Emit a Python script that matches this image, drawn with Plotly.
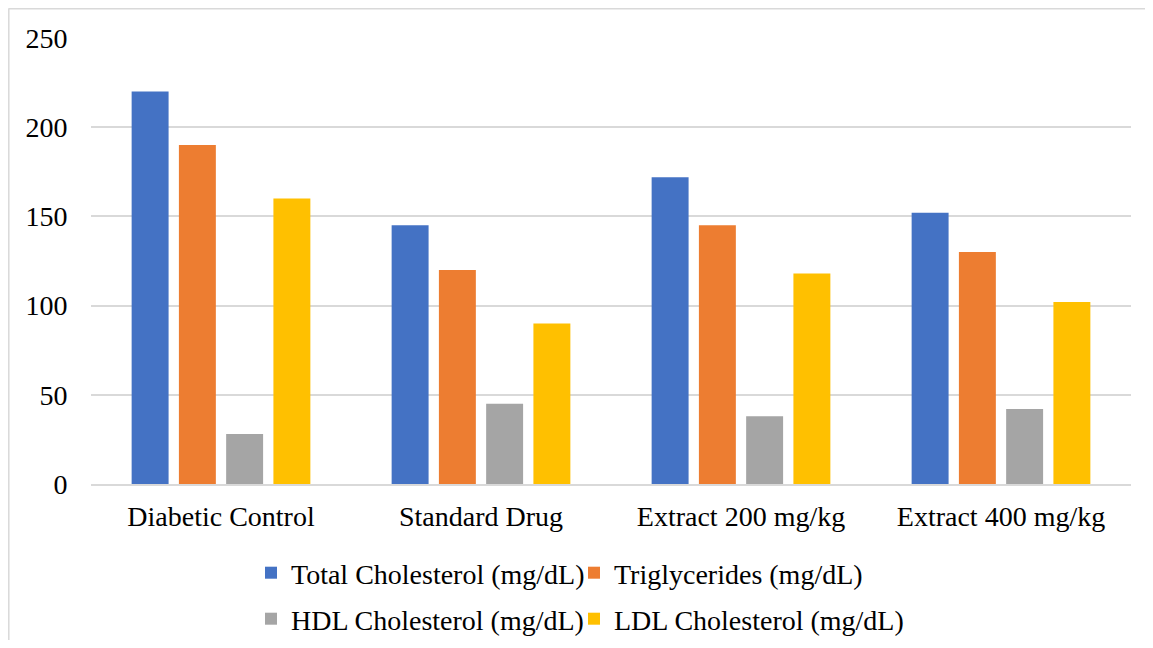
import plotly.graph_objects as go

groups = ["Diabetic Control", "Standard Drug", "Extract 200 mg/kg", "Extract 400 mg/kg"]
series_names = ["Total Cholesterol (mg/dL)", "Triglycerides (mg/dL)",
                "HDL Cholesterol (mg/dL)", "LDL Cholesterol (mg/dL)"]
total_chol = [220, 145, 172, 152]
triglycerides = [190, 120, 145, 130]
hdl_chol = [28, 45, 38, 42]
ldl_chol = [160, 90, 118, 102]
y_ticks = [0, 50, 100, 150, 200, 250]

colors = ["#4472C4", "#ED7D31", "#A5A5A5", "#FFC000"]
values = [total_chol, triglycerides, hdl_chol, ldl_chol]
legend_ids = ["legend", "legend2", "legend3", "legend4"]

FONT = "Liberation Serif, Times New Roman, serif"

fig = go.Figure()
for name, vals, col, lg in zip(series_names, values, colors, legend_ids):
    fig.add_trace(go.Bar(
        x=groups, y=vals, name=name, legend=lg,
        marker=dict(color=col, line=dict(width=0)),
    ))

# page has an 8px body margin; figure placed at page (8, 8)
OFF = 8
W, H = 1137, 632
L, T = 91 - OFF, 38 - OFF
R = W - (1131 - OFF)
B = H - (484 - OFF)
pw, ph = W - L - R, H - T - B

def px_x(x):
    return (x - OFF - L) / pw

def px_y(y):
    return (H - B - (y - OFF)) / ph

legend_common = dict(
    orientation="h", xref="paper", yref="paper", xanchor="left", yanchor="middle",
    bgcolor="rgba(0,0,0,0)",
    font=dict(family=FONT, size=28, color="#000000"),
    itemwidth=30,
)

legend_pos = [(251, 573), (574, 573), (251, 619), (574, 619)]
legend_layout = {}
for lg, (lx, ly) in zip(legend_ids, legend_pos):
    legend_layout[lg] = dict(x=px_x(lx), y=px_y(ly), **legend_common)

fig.update_layout(
    width=W, height=H,
    margin=dict(l=L, r=R, t=T, b=B, pad=0, autoexpand=False),
    paper_bgcolor="white", plot_bgcolor="white",
    barmode="group", bargap=0.273, bargroupgap=0.218,
    font=dict(family=FONT, size=28, color="#000000"),
    showlegend=True,
    xaxis=dict(
        showgrid=False, zeroline=False, showline=True, linecolor="#D9D9D9", linewidth=1.5,
        ticks="outside", ticklen=7, tickcolor="rgba(0,0,0,0)",
        tickfont=dict(family=FONT, size=28, color="#000000"),
    ),
    yaxis=dict(
        range=[0, 250], tickvals=y_ticks, showgrid=True, gridcolor="#D9D9D9", gridwidth=1.5,
        zeroline=False, showline=False,
        ticks="outside", ticklen=17, tickcolor="rgba(0,0,0,0)",
        tickfont=dict(family=FONT, size=28, color="#000000"),
    ),
    shapes=[
        dict(type="line", xref="paper", yref="paper", x0=px_x(8.5), x1=px_x(1170),
             y0=px_y(8.8), y1=px_y(8.8), line=dict(color="#D9D9D9", width=1.5)),
        dict(type="line", xref="paper", yref="paper", x0=px_x(8.8), x1=px_x(8.8),
             y0=px_y(8.5), y1=px_y(670), line=dict(color="#D9D9D9", width=1.5)),
    ],
    **legend_layout,
)

fig.write_html("out.html")
